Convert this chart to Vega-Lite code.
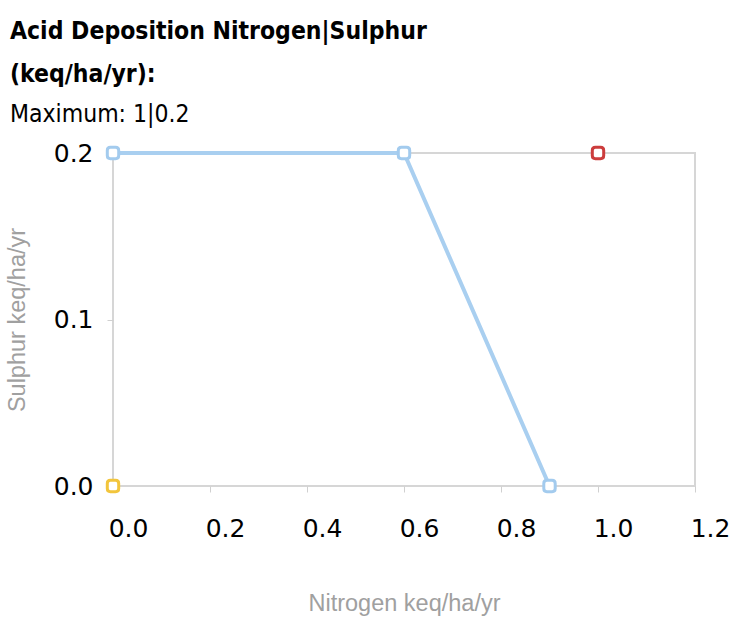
{
  "$schema": "https://vega.github.io/schema/vega-lite/v6.json",
  "autosize": "none",
  "width": 582,
  "height": 333,
  "padding": {"left": 113, "top": 153, "right": 41, "bottom": 157},
  "background": "white",
  "title": {
    "text": ["Acid Deposition Nitrogen|Sulphur", "(keq/ha/yr):"],
    "subtitle": "Maximum: 1|0.2",
    "anchor": "start",
    "frame": "group",
    "dx": -103,
    "offset": 14,
    "font": "DejaVu Sans Condensed",
    "fontWeight": "bold",
    "fontSize": 24.5,
    "lineHeight": 43,
    "color": "#000000",
    "subtitleFont": "DejaVu Sans Condensed",
    "subtitleFontWeight": "normal",
    "subtitleFontSize": 24.5,
    "subtitleColor": "#000000",
    "subtitlePadding": 15
  },
  "data": {
    "values": [
      {"series": "Critical load", "nitrogen": 0, "sulphur": 0.2, "order": 1},
      {"series": "Critical load", "nitrogen": 0.6, "sulphur": 0.2, "order": 2},
      {"series": "Critical load", "nitrogen": 0.9, "sulphur": 0, "order": 3},
      {"series": "Maximum", "nitrogen": 1, "sulphur": 0.2, "order": 1},
      {"series": "Minimum", "nitrogen": 0, "sulphur": 0, "order": 1}
    ]
  },
  "encoding": {
    "x": {
      "field": "nitrogen",
      "type": "quantitative",
      "scale": {"domain": [0, 1.2], "nice": false, "zero": false},
      "axis": {
        "title": "Nitrogen keq/ha/yr",
        "values": [0, 0.2, 0.4, 0.6, 0.8, 1.0, 1.2],
        "format": ".1f",
        "grid": false,
        "domain": false,
        "labelOffset": 15,
        "labelFont": "DejaVu Sans",
        "labelFontSize": 25,
        "labelColor": "#000000",
        "labelPadding": 24,
        "labelFlush": false,
        "labelOverlap": false,
        "labelBound": false,
        "tickColor": "#d0d0d0",
        "tickSize": 6,
        "titleFont": "Liberation Sans",
        "titleFontSize": 23.5,
        "titleFontWeight": "normal",
        "titleColor": "#a0a0a0",
        "titlePadding": 50
      }
    },
    "y": {
      "field": "sulphur",
      "type": "quantitative",
      "scale": {"domain": [0, 0.2], "nice": false},
      "axis": {
        "title": "Sulphur keq/ha/yr",
        "values": [0, 0.1, 0.2],
        "format": ".1f",
        "grid": false,
        "domain": false,
        "labelFont": "DejaVu Sans",
        "labelFontSize": 25,
        "labelColor": "#000000",
        "labelPadding": 14,
        "labelFlush": false,
        "labelOverlap": false,
        "labelBound": false,
        "tickColor": "#d0d0d0",
        "tickSize": 6,
        "titleFont": "Liberation Sans",
        "titleFontSize": 23.5,
        "titleFontWeight": "normal",
        "titleColor": "#a0a0a0",
        "titlePadding": 24
      }
    }
  },
  "layer": [
    {
      "transform": [{"filter": "datum.series === 'Critical load'"}],
      "mark": {"type": "line", "color": "#a9cff0", "strokeWidth": 4},
      "encoding": {"order": {"field": "order", "type": "quantitative"}}
    },
    {
      "mark": {
        "type": "point",
        "shape": "M -0.45 -1 L 0.45 -1 Q 1 -1 1 -0.45 L 1 0.45 Q 1 1 0.45 1 L -0.45 1 Q -1 1 -1 0.45 L -1 -0.45 Q -1 -1 -0.45 -1 Z",
        "filled": true,
        "fill": "#ffffff",
        "size": 130,
        "strokeWidth": 3,
        "opacity": 1
      },
      "encoding": {
        "stroke": {
          "field": "series",
          "type": "nominal",
          "scale": {"domain": ["Critical load", "Maximum", "Minimum"], "range": ["#a3cbee", "#cc3d3d", "#f2c53c"]},
          "legend": null
        }
      }
    }
  ],
  "config": {
    "view": {"stroke": "#d6d6d6", "strokeWidth": 2}
  }
}
